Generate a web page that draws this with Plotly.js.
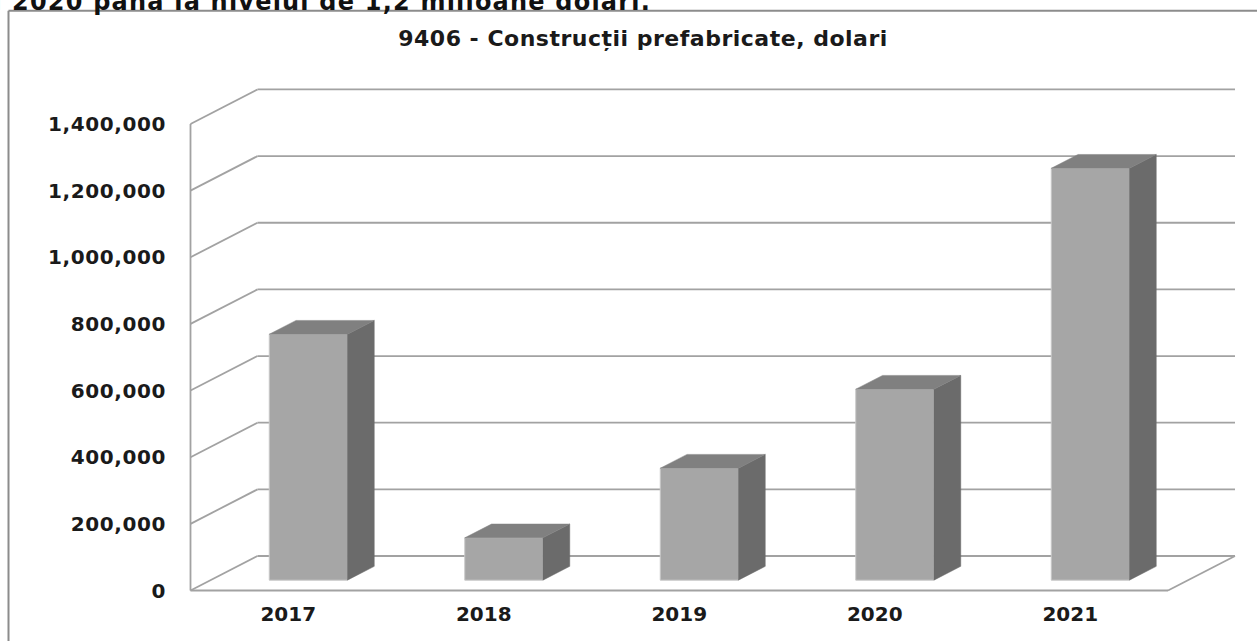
<!DOCTYPE html>
<html>
<head>
<meta charset="utf-8">
<script src="https://cdn.plot.ly/plotly-3.0.1.min.js"></script>
<style>
  html, body { margin: 0; padding: 0; background: #ffffff; }
  #chart { width: 1257px; height: 641px; }
  #chart .gtitle { letter-spacing: 0.5px; }
  #chart .ytick text { letter-spacing: 0.6px; }
  #chart .annotation-text { letter-spacing: 1.2px; }
</style>
</head>
<body>
<div id="chart"></div>
<script>
// ---- data ----
const years = ['2017', '2018', '2019', '2020', '2021'];
const values = [738000, 127000, 336000, 573000, 1236000];
const yTicks = [0, 200000, 400000, 600000, 800000, 1000000, 1200000, 1400000];
const chartTitle = '9406 - Construcții prefabricate, dolari';
const topText = 'în 2020 până la nivelul de 1,2 milioane dolari.';

// ---- layout geometry (pixels) ----
const W = 1257, H = 641;
const L = 185, R = 1242, T = 80, B = 600;
const x0px = 190.5, pxPerCat = 195.5;          // front floor edge
const y0px = 590.5, pxPerVal = 66.65 / 200000;  // front value scale
const xRange = [-0.5 - (x0px - L) / pxPerCat, -0.5 + (R - x0px) / pxPerCat];
const yRange = [-(B - y0px) / pxPerVal, (y0px - T) / pxPerVal];

// oblique depth of the floor / walls, in data units
const DXu = 67 / pxPerCat;
const DYu = 34.5 / pxPerVal;
const f0 = 0.3, f1 = 0.7;    // bar sits between these depth fractions
const barW = 0.4;

const nCat = years.length;
const xl = -0.5, xr = nCat - 0.5;
const yMax = yTicks[yTicks.length - 1];

const gridColor = '#a2a2a2';
const gridW = 1.8;
const shapes = [];
function seg(xa, ya, xb, yb) {
  shapes.push({type: 'line', xref: 'x', yref: 'y', x0: xa, y0: ya, x1: xb, y1: yb,
               layer: 'below', line: {color: gridColor, width: gridW}});
}
yTicks.forEach(v => {
  seg(xl, v, xl + DXu, v + DYu);
  seg(xl + DXu, v + DYu, xr + DXu, v + DYu);
});
seg(xl, 0, xl, yMax);
seg(xl, 0, xr, 0);
seg(xr, 0, xr + DXu, DYu);

// outer frame of the chart object (pixels -> paper)
const px2paperX = px => (px - L) / (R - L);
const px2paperY = py => (B - py) / (B - T);
shapes.push({type: 'line', xref: 'paper', yref: 'paper',
  x0: px2paperX(8.5), y0: px2paperY(700), x1: px2paperX(8.5), y1: px2paperY(10.7),
  line: {color: '#8c8c8c', width: 2}});
shapes.push({type: 'line', xref: 'paper', yref: 'paper',
  x0: px2paperX(8.5), y0: px2paperY(10.7), x1: px2paperX(1300), y1: px2paperY(10.7),
  line: {color: '#8c8c8c', width: 2}});

// ---- bars ----
const offX = f0 * DXu, baseY = f0 * DYu;
const bdx = (f1 - f0) * DXu, bdy = (f1 - f0) * DYu;
const xs = years.map((_, i) => i + offX);

const frontTrace = {
  type: 'bar', x: xs, y: values, base: baseY, width: barW,
  marker: {color: '#a6a6a6', line: {color: '#c8c8c8', width: 1}},
  hoverinfo: 'skip', showlegend: false
};

const sideX = [], sideY = [], topX = [], topY = [];
values.forEach((v, i) => {
  const xa = xs[i] - barW / 2, xb = xs[i] + barW / 2;
  const yt = baseY + v;
  sideX.push(xb, xb, xb + bdx, xb + bdx, xb, null);
  sideY.push(baseY, yt, yt + bdy, baseY + bdy, baseY, null);
  topX.push(xa, xb, xb + bdx, xa + bdx, xa, null);
  topY.push(yt, yt, yt + bdy, yt + bdy, yt, null);
});
const sideTrace = {type: 'scatter', mode: 'lines', x: sideX, y: sideY, fill: 'toself',
  fillcolor: '#6b6b6b', line: {color: '#6b6b6b', width: 0.5}, hoverinfo: 'skip', showlegend: false};
const topTrace = {type: 'scatter', mode: 'lines', x: topX, y: topY, fill: 'toself',
  fillcolor: '#808080', line: {color: '#808080', width: 0.5}, hoverinfo: 'skip', showlegend: false};

const font = {family: 'DejaVu Sans, Verdana, sans-serif', color: '#1a1a1a', weight: 'bold'};

const layout = {
  width: W, height: H,
  margin: {l: L, r: W - R, t: T, b: H - B, pad: 0},
  paper_bgcolor: '#ffffff', plot_bgcolor: 'rgba(0,0,0,0)',
  showlegend: false,
  title: {text: chartTitle, xref: 'container', yref: 'container',
          x: 643 / W, y: 1 - 38 / H, xanchor: 'center', yanchor: 'middle',
          font: Object.assign({}, font, {size: 22})},
  xaxis: {range: xRange, tickmode: 'array', tickvals: years.map((_, i) => i), ticktext: years,
          showgrid: false, zeroline: false, showline: false, ticks: '',
          ticklabelstandoff: 0, tickfont: Object.assign({}, font, {size: 20}), fixedrange: true},
  yaxis: {range: yRange, tickmode: 'array', tickvals: yTicks, tickformat: ',d',
          showgrid: false, zeroline: false, showline: false, ticks: '',
          ticklabelstandoff: 18, tickfont: Object.assign({}, font, {size: 20}), fixedrange: true},
  shapes: shapes,
  annotations: [{text: topText, xref: 'paper', yref: 'paper',
    x: px2paperX(625), y: px2paperY(2), xanchor: 'right', yanchor: 'middle',
    showarrow: false, font: Object.assign({}, font, {size: 24, color: '#111111'})}]
};

Plotly.newPlot('chart', [frontTrace, sideTrace, topTrace], layout, {displayModeBar: false, staticPlot: true});
</script>
</body>
</html>
